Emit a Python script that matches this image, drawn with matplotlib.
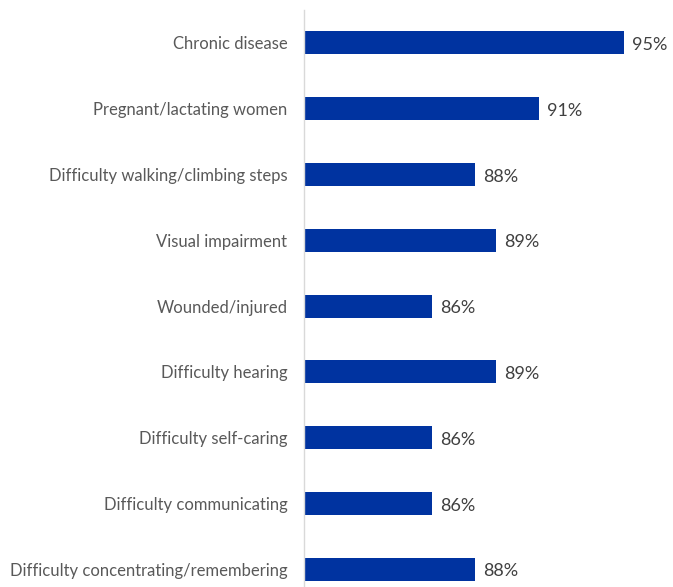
import matplotlib
matplotlib.use("Agg")
import matplotlib.pyplot as plt

categories = [
    "Chronic disease",
    "Pregnant/lactating women",
    "Difficulty walking/climbing steps",
    "Visual impairment",
    "Wounded/injured",
    "Difficulty hearing",
    "Difficulty self-caring",
    "Difficulty communicating",
    "Difficulty concentrating/remembering",
]
values = [95, 91, 88, 89, 86, 89, 86, 86, 88]

plt.rcParams["font.family"] = ["Lato", "DejaVu Sans"]

W, H, DPI = 673, 587, 100
fig = plt.figure(figsize=(W / DPI, H / DPI), dpi=DPI)
left, right, top, bottom = 304, 668, 10, 587
ax = fig.add_axes([left / W, 1 - bottom / H, (right - left) / W, (bottom - top) / H])

xmin = 80
px_per_unit = 21.33
ax.set_xlim(xmin, xmin + (right - left) / px_per_unit)

pos = list(range(len(categories)))
ax.barh(pos, [v - xmin for v in values], left=xmin, height=0.35, color="#0033A0")
ax.set_ylim(len(categories) - 1 + 0.27, -0.5)

for p, v in zip(pos, values):
    ax.annotate(f"{v}%", xy=(v, p), xytext=(6, -1.5), textcoords="offset points",
                va="center", ha="left", fontsize=13, color="#404040")

ax.set_yticks(pos)
ax.set_yticklabels(categories, fontsize=12, color="#595959")
ax.tick_params(axis="y", length=0, pad=12)
ax.set_xticks([])
for s in ["top", "right", "bottom"]:
    ax.spines[s].set_visible(False)
ax.spines["left"].set_color("#D9D9D9")
ax.spines["left"].set_linewidth(1)

fig.savefig("out.png", dpi=DPI)
